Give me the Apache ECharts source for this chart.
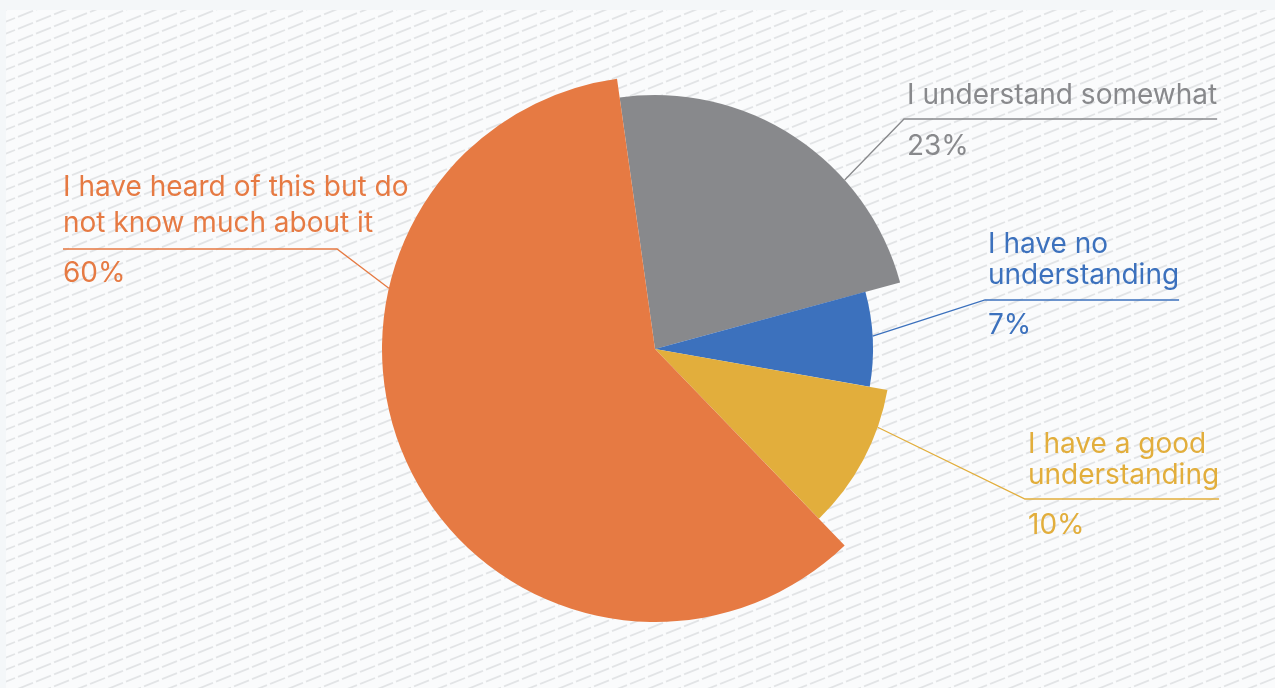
<!DOCTYPE html>
<html>
<head>
<meta charset="utf-8">
<script src="https://cdn.jsdelivr.net/npm/echarts@6/dist/echarts.min.js"></script>
<style>
  html, body { margin: 0; padding: 0; background: #f4f7f9; }
  #chart { width: 1275px; height: 688px; }
</style>
</head>
<body>
<div id="chart"></div>
<script>
// Survey answers, in clockwise order from the top of the pie
const categories = [
  'I understand somewhat',
  'I have no\nunderstanding',
  'I have a good\nunderstanding',
  'I have heard of this but do\nnot know much about it'
];
const shares = [23, 7, 10, 60];
const sliceColors = ['#88898c', '#3c71bd', '#e2ae3c', '#e67a43'];

// Geometry and label placement
const CX = 655, CY = 349;
const START_DEG = -8;                 // first slice edge, degrees clockwise from 12 o'clock
const sliceRadius = [254, 218, 236, 273];
const anchorFrac = [0.68, 0.47, 0.26, 0.68];   // where along each arc the leader line starts
const labelBoxes = [
  { left: 907,  top: 81,  lh: 30, gap: 21, rule: 38, side: 'right' },
  { left: 988,  top: 229, lh: 31, gap: 20, rule: 71, side: 'right' },
  { left: 1028, top: 429, lh: 31, gap: 20, rule: 70, side: 'right' },
  { left: 63,   top: 170, lh: 36, gap: 17, rule: 79, side: 'left', ruleLen: 274 }
];
const FONT = 'Inter, "Noto Sans", sans-serif';
const FONT_SIZE = 28;

const total = shares.reduce((a, b) => a + b, 0);

function anchorPoint(i) {
  let before = 0;
  for (let k = 0; k < i; k++) before += shares[k];
  const startDeg = START_DEG + before / total * 360;
  const span = shares[i] / total * 360;
  const t = (startDeg + anchorFrac[i] * span) * Math.PI / 180;
  return [CX + sliceRadius[i] * Math.sin(t), CY - sliceRadius[i] * Math.cos(t)];
}

// Hatched backdrop tile: short dashes on a shallow diagonal
const tile = document.createElement('canvas');
tile.width = 90; tile.height = 12;
(function () {
  const g = tile.getContext('2d');
  g.fillStyle = '#fafbfc';
  g.fillRect(0, 0, 90, 12);
  g.strokeStyle = '#e2e4e6';
  g.lineWidth = 1.8;
  for (let c = -48; c <= 72; c += 12) {
    for (let x0 = -90; x0 < 180; x0 += 18) {
      g.beginPath();
      g.moveTo(x0, c - 0.4 * x0);
      g.lineTo(x0 + 15, c - 0.4 * (x0 + 15));
      g.stroke();
    }
  }
})();

function makeSeries(i) {
  const box = labelBoxes[i];
  const nameLines = categories[i].split('\n');
  return {
    type: 'pie',
    center: [CX, CY],
    radius: [0, sliceRadius[i]],
    startAngle: 90 - START_DEG,
    clockwise: true,
    avoidLabelOverlap: false,
    silent: true,
    animation: false,
    padAngle: 0,
    minAngle: 0,
    z: 2,
    itemStyle: { borderWidth: 0 },
    emphasis: { disabled: true },
    data: categories.map((name, j) => ({
      name: name,
      value: shares[j],
      itemStyle: { color: j === i ? sliceColors[j] : 'rgba(0,0,0,0)' },
      label: { show: j === i },
      labelLine: { show: j === i }
    })),
    label: {
      position: 'outside',
      fontFamily: FONT,
      fontSize: FONT_SIZE,
      color: sliceColors[i],
      formatter: function (p) {
        return nameLines.map(s => '{n|' + s + '}').join('\n') +
          '\n{g| }\n{p|' + p.value + '%}';
      },
      rich: {
        n: { fontFamily: FONT, fontSize: FONT_SIZE, lineHeight: box.lh, color: sliceColors[i] },
        g: { fontSize: 4, lineHeight: box.gap },
        p: { fontFamily: FONT, fontSize: FONT_SIZE, lineHeight: 30, color: sliceColors[i] }
      }
    },
    labelLine: {
      show: true,
      smooth: false,
      length: 10,
      length2: 10,
      lineStyle: { color: sliceColors[i], width: 1.3 }
    },
    labelLayout: function (p) {
      const a = anchorPoint(i);
      const ruleY = box.top + box.rule;
      let pts;
      if (box.side === 'right') {
        pts = [a, [box.left - 3, ruleY], [box.left + p.labelRect.width, ruleY]];
      } else {
        pts = [a, [box.left + box.ruleLen, ruleY], [box.left, ruleY]];
      }
      return { x: box.left, y: box.top, align: 'left', verticalAlign: 'top', labelLinePoints: pts };
    }
  };
}

const chart = echarts.init(document.getElementById('chart'), null, { renderer: 'canvas' });
chart.setOption({
  backgroundColor: '#f4f7f9',
  animation: false,
  graphic: [{
    type: 'rect',
    z: -10,
    silent: true,
    shape: { x: 6, y: 10, width: 1275 - 6, height: 688 - 10 },
    style: { fill: { image: tile, repeat: 'repeat' } }
  }],
  series: [0, 1, 2, 3].map(makeSeries)
});
</script>
</body>
</html>
